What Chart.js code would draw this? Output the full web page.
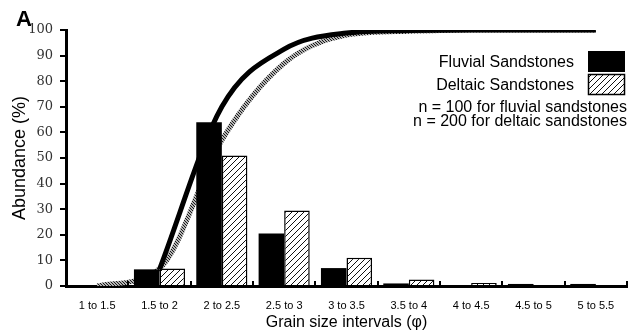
<!DOCTYPE html>
<html>
<head>
<meta charset="utf-8">
<script src="https://cdn.jsdelivr.net/npm/chart.js@4.4.1/dist/chart.umd.min.js"></script>
<style>
  html, body { margin: 0; padding: 0; background: #fff; }
  #wrap { width: 642px; height: 333px; position: relative; }
</style>
</head>
<body>
<div id="wrap"><canvas id="grainChart"></canvas></div>
<script>
const intervals = ["1 to 1.5", "1.5 to 2", "2 to 2.5", "2.5 to 3", "3 to 3.5", "3.5 to 4", "4 to 4.5", "4.5 to 5", "5 to 5.5"];
const fluvial = [0, 6.5, 64, 20.5, 7, 1, 0.4, 0.8, 0.8];
const deltaic = [0, 6.8, 51, 29.5, 11, 2.5, 1.2, 0, 0];
// cumulative curves
const fluvialCum = [null, 6.5, 70, 92.5, 98.8, 99.8, 100, 100, 100];
const deltaicCum = [0, 6.8, 57, 87, 98, 99.5, 100, 100, 100];
const yTicks = [0, 10, 20, 30, 40, 50, 60, 70, 80, 90, 100];

const SANS = '"Liberation Sans", Arial, sans-serif';

function hatch(size, color, lw, back) {
  const c = document.createElement('canvas');
  c.width = size; c.height = size;
  const g = c.getContext('2d');
  g.fillStyle = '#fff';
  g.fillRect(0, 0, size, size);
  g.strokeStyle = color;
  g.lineWidth = lw;
  g.beginPath();
  if (back) {
    g.moveTo(0, 0); g.lineTo(size, size);
    g.moveTo(-1, size - 1); g.lineTo(1, size + 1);
    g.moveTo(size - 1, -1); g.lineTo(size + 1, 1);
  } else {
    g.moveTo(0, size); g.lineTo(size, 0);
    g.moveTo(-1, 1); g.lineTo(1, -1);
    g.moveTo(size - 1, size + 1); g.lineTo(size + 1, size - 1);
  }
  g.stroke();
  return g.createPattern(c, 'repeat');
}

const barHatch = hatch(6, '#111', 1, false);
const curveHatch = hatch(3, '#111', 1.2, true);

const extras = {
  id: 'extras',
  afterDraw(chart) {
    const ctx = chart.ctx;
    const x = chart.scales.x;
    ctx.save();
    // small upward ticks between the intervals
    const step = x.getPixelForTick(1) - x.getPixelForTick(0);
    ctx.strokeStyle = '#000';
    ctx.lineWidth = 2;
    for (let i = 1; i <= intervals.length; i++) {
      const px = Math.round(x.getPixelForTick(0) - step / 2 + i * step);
      ctx.beginPath();
      ctx.moveTo(px, chart.chartArea.bottom - 5);
      ctx.lineTo(px, chart.chartArea.bottom + 1);
      ctx.stroke();
    }

    ctx.fillStyle = '#000';
    ctx.font = 'bold 22px ' + SANS;
    ctx.fillText('A', 16, 26);

    ctx.font = '16px ' + SANS;
    ctx.textAlign = 'right';
    ctx.fillText('Fluvial Sandstones', 574, 67);
    ctx.fillText('Deltaic Sandstones', 574, 90);
    ctx.fillText('n = 100 for fluvial sandstones', 627, 112);
    ctx.fillText('n = 200 for deltaic sandstones', 627, 126);

    ctx.fillRect(588, 51, 37, 21);
    ctx.fillStyle = barHatch;
    ctx.fillRect(588, 74, 36, 20);
    ctx.lineWidth = 1.5;
    ctx.strokeRect(588.5, 74.5, 36, 20);
    ctx.restore();
  }
};

new Chart(document.getElementById('grainChart'), {
  type: 'bar',
  data: {
    labels: intervals,
    datasets: [
      {
        label: 'Fluvial Sandstones',
        data: fluvial,
        backgroundColor: '#000',
        borderWidth: 0,
        order: 1
      },
      {
        label: 'Deltaic Sandstones',
        data: deltaic,
        backgroundColor: barHatch,
        borderColor: '#000',
        borderWidth: 1.5,
        order: 1
      },
      {
        type: 'line',
        label: 'Fluvial cumulative',
        data: fluvialCum,
        borderColor: '#000',
        borderWidth: 5,
        pointRadius: 0,
        cubicInterpolationMode: 'monotone',
        fill: false,
        order: 2
      },
      {
        type: 'line',
        label: 'Deltaic cumulative',
        data: deltaicCum,
        borderColor: curveHatch,
        borderWidth: 5,
        pointRadius: 0,
        cubicInterpolationMode: 'monotone',
        fill: false,
        order: 3
      }
    ]
  },
  options: {
    responsive: true,
    maintainAspectRatio: false,
    animation: false,
    layout: { padding: { top: 30, right: 15, left: 0, bottom: 0 } },
    datasets: {
      bar: { categoryPercentage: 0.82, barPercentage: 1.0 }
    },
    plugins: {
      legend: { display: false },
      tooltip: { enabled: false }
    },
    scales: {
      x: {
        afterFit: s => { s.height = 47; },
        border: { display: true, color: '#000', width: 3 },
        grid: { display: true, drawOnChartArea: false, drawTicks: false },
        ticks: {
          color: '#000',
          padding: 13,
          maxRotation: 0,
          autoSkip: false,
          font: { family: SANS, size: 11 }
        },
        title: {
          display: true,
          text: 'Grain size intervals (\u03c6)',
          color: '#000',
          padding: { top: 0, bottom: 1 },
          font: { family: SANS, size: 16 }
        }
      },
      y: {
        min: 0,
        max: 100,
        afterFit: s => { s.width = 66; },
        afterBuildTicks: s => { s.ticks = yTicks.map(v => ({ value: v })); },
        border: { display: true, color: '#000', width: 3 },
        grid: { drawOnChartArea: false, drawTicks: true, tickLength: 6, color: '#000', lineWidth: 2 },
        ticks: {
          color: '#333',
          padding: 7,
          font: { family: '"DejaVu Serif", "Liberation Serif", serif', size: 13 }
        },
        title: {
          display: true,
          text: 'Abundance (%)',
          color: '#000',
          padding: { top: 9, bottom: 9 },
          font: { family: SANS, size: 18 }
        }
      }
    }
  },
  plugins: [extras]
});
</script>
</body>
</html>
